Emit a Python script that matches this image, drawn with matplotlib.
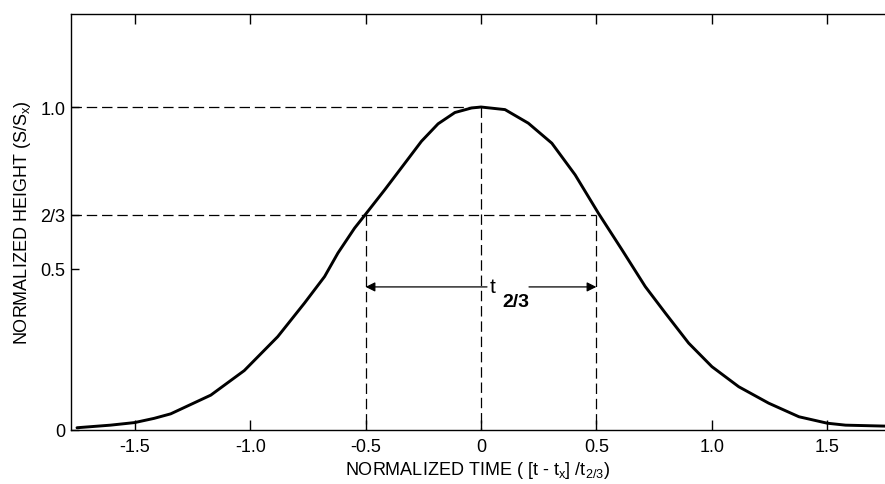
import numpy as np
import matplotlib
matplotlib.use('Agg')
import matplotlib.pyplot as plt

plt.rcParams['font.family'] = ['Liberation Sans', 'DejaVu Sans']
plt.rcParams['mathtext.fontset'] = 'custom'
plt.rcParams['mathtext.rm'] = 'Liberation Sans'
plt.rcParams['mathtext.it'] = 'Liberation Sans'
plt.rcParams['lines.scale_dashes'] = False

# curve
time_x = [-1.751, -1.606, -1.501, -1.417, -1.345, -1.171, -1.026, -0.881, -0.765,
          -0.678, -0.620, -0.548, -0.497, -0.417, -0.330, -0.258, -0.186, -0.113,
          -0.041, 0.0, 0.104, 0.205, 0.307, 0.408, 0.509, 0.611, 0.712, 0.799,
          0.900, 1.001, 1.117, 1.247, 1.378, 1.501, 1.580, 1.754]
height_y = [0.007, 0.015, 0.023, 0.036, 0.050, 0.108, 0.184, 0.289, 0.393,
            0.475, 0.548, 0.625, 0.671, 0.744, 0.826, 0.894, 0.948, 0.983,
            0.997, 1.0, 0.992, 0.950, 0.888, 0.790, 0.671, 0.558, 0.444, 0.362,
            0.269, 0.196, 0.134, 0.083, 0.041, 0.021, 0.015, 0.012]

xticks = [-1.5, -1.0, -0.5, 0, 0.5, 1.0, 1.5]
xtick_labels = ['-1.5', '-1.0', '-0.5', '0', '0.5', '1.0', '1.5']
yticks = [0, 0.5, 2/3, 1.0]
ytick_labels = ['0', '0.5', '2/3', '1.0']

peak = 1.0
ref_h = 2/3
half_w = 0.5
arrow_y = 0.443

fig = plt.figure(figsize=(8.85, 4.85), dpi=100)
ax = fig.add_axes([71/885, 54/485, (885-71)/885, (431-15)/485])

ax.plot(time_x, height_y, color='black', lw=2.1, solid_capstyle='round',
        solid_joinstyle='round')

dash = dict(color='black', lw=0.9, dashes=(7.5, 3.5))
xmin = -1.777
ax.plot([xmin, 0], [peak, peak], **dash)
ax.plot([xmin, half_w], [ref_h, ref_h], **dash)
ax.plot([-half_w, -half_w], [ref_h, 0], **dash)
ax.plot([0, 0], [peak, 0], **dash)
ax.plot([half_w, half_w], [ref_h, 0], **dash)

ap = dict(arrowstyle='-|>', lw=0.9, color='black', mutation_scale=14,
          shrinkA=0, shrinkB=0)
ax.annotate('', xy=(-half_w, arrow_y), xytext=(0.026, arrow_y), arrowprops=ap)
ax.annotate('', xy=(half_w, arrow_y), xytext=(0.208, arrow_y), arrowprops=ap)
ax.text(0.039, 0.427, 't', fontsize=15, ha='left', va='baseline')
ax.text(0.091, 0.384, '2/3', fontsize=14, fontweight='bold', ha='left', va='baseline')

ax.set_xlim(xmin, 1.751)
ax.set_ylim(0, 1.288)
ax.set_xticks(xticks)
ax.set_xticklabels(xtick_labels)
ax.set_yticks(yticks)
ax.set_yticklabels(ytick_labels)
ax.tick_params(axis='x', direction='in', length=7, width=1, top=True, labelsize=13, pad=6)
ax.tick_params(axis='y', direction='in', length=6, width=1, labelsize=13, pad=4)
ax.spines['right'].set_visible(False)
for s in ['left', 'bottom', 'top']:
    ax.spines[s].set_linewidth(1.0)

ax.set_xlabel(r'NORMALIZED TIME ( [t - t$_\mathregular{x}$] /t$_\mathregular{2/3}$)', fontsize=13, labelpad=3)
ax.set_ylabel(r'NORMALIZED HEIGHT (S/S$_\mathregular{x}$)', fontsize=13, labelpad=5)

fig.savefig('out.png', dpi=100)
